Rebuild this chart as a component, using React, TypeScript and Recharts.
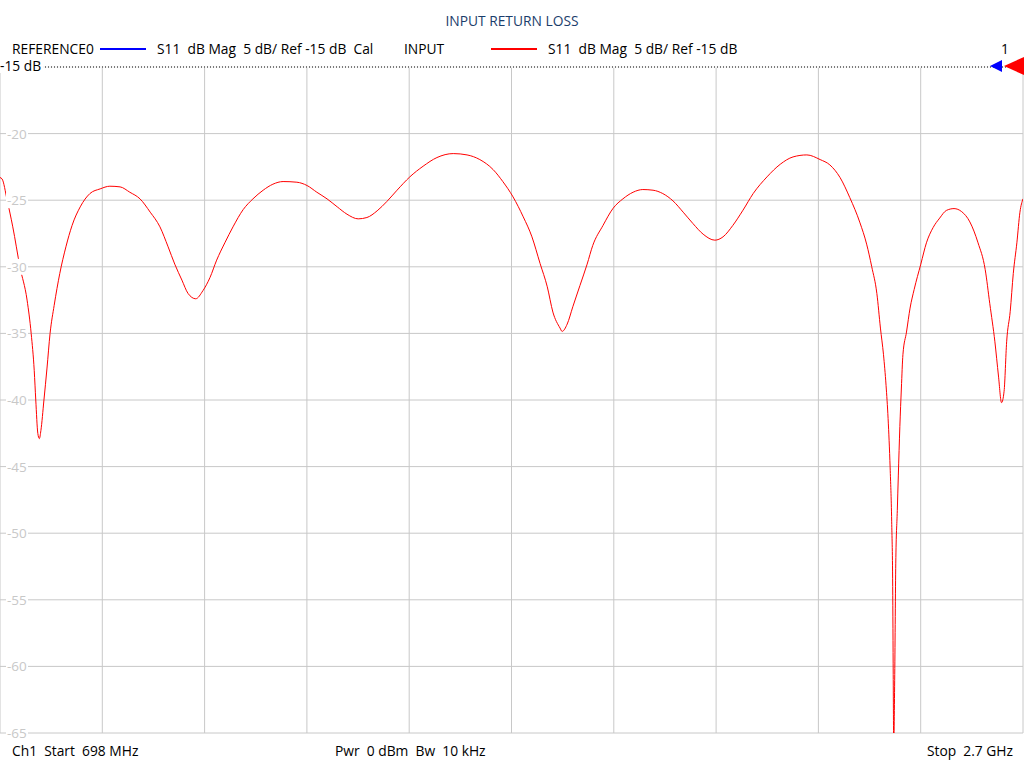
import { LineChart, Line, XAxis, YAxis, CartesianGrid, ReferenceLine } from "recharts";

// sweep points (MHz, dB)
const freqMHz = [
  698, 702, 712, 723, 737, 751, 759, 765, 768, 772, 775, 778, 784, 790, 796, 804, 815, 827, 839, 855,
  874, 894, 913, 933, 952, 972, 992, 1011, 1027, 1040, 1054, 1066, 1081, 1095, 1109, 1122, 1138, 1154,
  1174, 1193, 1213, 1232, 1252, 1279, 1299, 1318, 1338, 1358, 1377, 1399, 1416, 1436, 1455, 1475, 1500,
  1526, 1553, 1585, 1612, 1637, 1663, 1682, 1702, 1722, 1739, 1755, 1769, 1780, 1794, 1798, 1808, 1819,
  1833, 1847, 1858, 1878, 1898, 1917, 1937, 1956, 1976, 1995, 2015, 2035, 2054, 2074, 2097, 2113, 2132,
  2152, 2172, 2199, 2225, 2250, 2277, 2303, 2322, 2342, 2361, 2381, 2394, 2404, 2414, 2421, 2427, 2432,
  2436, 2440, 2443, 2445, 2446, 2447, 2449, 2451, 2454, 2456, 2459, 2462, 2465, 2472, 2479, 2487, 2500,
  2511, 2524, 2537, 2550, 2565, 2580, 2596, 2612, 2626, 2635, 2645, 2652, 2658, 2663, 2668, 2675, 2681,
  2688, 2694, 2700,
];

const s11dB = [
  -23.3, -23.4, -25.0, -27.0, -30.0, -32.5, -35.0, -37.8, -40.0, -42.5, -42.9, -42.3, -40.0, -37.6, -35.0,
  -32.9, -30.5, -28.5, -26.9, -25.5, -24.5, -24.15, -23.95, -24.0, -24.4, -24.9, -25.9, -27.0, -28.5, -29.8,
  -31.0, -32.0, -32.4, -31.8, -30.8, -29.5, -28.2, -27.0, -25.7, -24.9, -24.25, -23.8, -23.6, -23.65, -23.9,
  -24.4, -24.9, -25.5, -26.05, -26.4, -26.3, -25.8, -25.1, -24.25, -23.25, -22.45, -21.8, -21.5, -21.6,
  -21.95, -22.7, -23.6, -24.75, -26.25, -27.75, -29.76, -31.5, -33.4, -34.6, -34.85, -34.3, -33.0, -31.4,
  -29.8, -28.4, -26.9, -25.6, -24.9, -24.4, -24.2, -24.25, -24.5, -25.05, -25.9, -26.75, -27.55, -28.0,
  -27.75, -26.9, -25.75, -24.5, -23.25, -22.3, -21.75, -21.6, -21.95, -22.35, -23.3, -24.8, -26.7, -28.3,
  -30.0, -32.0, -34.6, -36.6, -38.9, -41.4, -45.1, -49.1, -54.0, -60.6, -66.0, -60.6, -52.3, -48.3, -45.7,
  -42.0, -39.1, -36.6, -34.9, -33.1, -31.7, -29.8, -28.2, -27.06, -26.34, -25.77, -25.63, -25.86, -26.63,
  -28.2, -30.2, -32.77, -35.63, -38.2, -40.2, -39.34, -35.63, -33.34, -30.5, -28.2, -25.9, -24.9,
];

const freqTicks = [698, 898.2, 1098.4, 1298.6, 1498.8, 1699, 1899.2, 2099.4, 2299.6, 2499.8, 2700];
const dbTicks = [-15, -20, -25, -30, -35, -40, -45, -50, -55, -60, -65];

const data = freqMHz.map((f, i) => ({ f, s11: s11dB[i] }));

const FONT = "'Open Sans', 'Noto Sans', sans-serif";
const FS = 13.8;

const renderDbTick = (props: any) => {
  const { y, payload } = props;
  // the top one sits under the "-15 dB" ref label
  if (payload.value === -15) return <g />;
  return (
    <g>
      <rect x={6} y={y - 8} width={22} height={16} fill="#fff" />
      <text x={7} y={y} dy={5} fill="#c8c8c8" fontSize={13.5} fontFamily={FONT} textAnchor="start">
        {payload.value}
      </text>
    </g>
  );
};

const txt = (left: number, top: number, s: string, extra: any = {}) => (
  <div
    style={{
      position: "absolute",
      left,
      top,
      fontFamily: FONT,
      fontSize: FS,
      whiteSpace: "pre",
      color: "#000",
      lineHeight: "18px",
      ...extra,
    }}
  >
    {s}
  </div>
);

export default function App() {
  return (
    <div style={{ position: "absolute", left: 0, top: 0, width: 1024, height: 768, background: "#fff" }}>
      <LineChart width={1024} height={768} data={data} margin={{ top: 67, right: 1, bottom: 35, left: 0 }}>
        <CartesianGrid stroke="#c8c8c8" strokeWidth={1} />
        <XAxis dataKey="f" type="number" domain={[698, 2700]} ticks={freqTicks} hide allowDataOverflow />
        <YAxis
          type="number"
          domain={[-65, -15]}
          ticks={dbTicks}
          width={1}
          mirror
          axisLine={false}
          tickLine={false}
          tick={renderDbTick}
          interval={0}
          allowDataOverflow
        />
        <ReferenceLine y={-15} stroke="#fff" strokeWidth={1.5} />
        <ReferenceLine y={-15} stroke="#000" strokeDasharray="1 2" />
        <Line
          type="monotone"
          dataKey="s11"
          stroke="#ff0000"
          strokeWidth={1}
          dot={false}
          isAnimationActive={false}
        />
      </LineChart>

      {txt(0, 12, "INPUT RETURN LOSS", { width: 1024, textAlign: "center", color: "#1b3d6b" })}

      {txt(12, 40, "REFERENCE0")}
      <div style={{ position: "absolute", left: 100, top: 48, width: 46, height: 2, background: "#0000ff" }} />
      {txt(157, 40, "S11  dB Mag  5 dB/ Ref -15 dB  Cal")}
      {txt(404, 40, "INPUT")}
      <div style={{ position: "absolute", left: 491, top: 48, width: 46, height: 2, background: "#ff0000" }} />
      {txt(548, 40, "S11  dB Mag  5 dB/ Ref -15 dB")}
      {txt(1001, 40, "1")}

      {txt(0, 57, "-15 dB", { background: "#fff", paddingRight: 2, height: 16, lineHeight: "18px" })}

      <svg style={{ position: "absolute", left: 0, top: 0 }} width={1024} height={80}>
        <polygon points="990,66 1002,60 1002,72" fill="#0000ff" />
        <polygon points="1004,66 1024,57 1024,75" fill="#ff0000" />
      </svg>

      {txt(12, 742, "Ch1  Start  698 MHz")}
      {txt(335, 742, "Pwr  0 dBm  Bw  10 kHz")}
      {txt(0, 742, "Stop  2.7 GHz", { width: 1013, textAlign: "right" })}
    </div>
  );
}
